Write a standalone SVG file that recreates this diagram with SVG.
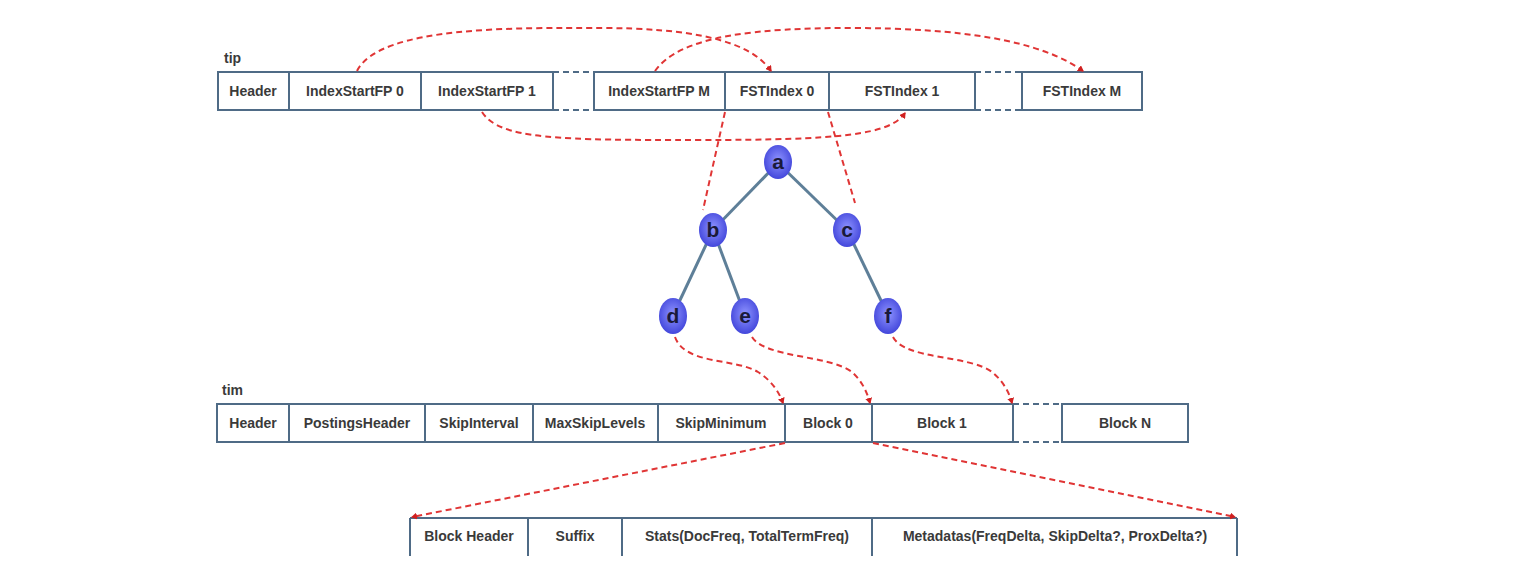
<svg xmlns="http://www.w3.org/2000/svg" width="1527" height="569" viewBox="0 0 1527 569">
<style>
.cell{fill:#fff;stroke:#4f6b86;stroke-width:2}
.ln{stroke:#4f6b86;stroke-width:2;fill:none}
.gap{stroke:#4f6b86;stroke-width:2;fill:none;stroke-dasharray:6,4}
.t{font-family:"Liberation Sans",Arial,sans-serif;font-size:14px;font-weight:bold;fill:#3a3a3a;text-anchor:middle}
.lbl{font-family:"Liberation Sans",Arial,sans-serif;font-size:14px;font-weight:bold;fill:#3a3a3a}
.c{stroke:#e03535;stroke-width:2;fill:none;stroke-dasharray:6,4}
.edge{stroke:#5e7f98;stroke-width:3}
.node{fill:url(#ng)}
.nt{font-family:"Liberation Sans",Arial,sans-serif;font-size:21px;font-weight:bold;fill:#1a1a3a;text-anchor:middle}
</style>
<defs>
<radialGradient id="ng" cx="50%" cy="45%" r="60%">
<stop offset="0" stop-color="#8f94ff"/>
<stop offset="1" stop-color="#3c40d8"/>
</radialGradient>
<marker id="ah" markerWidth="7" markerHeight="7" refX="5" refY="3.5" orient="auto" markerUnits="userSpaceOnUse">
<path d="M0,0 L6,3.5 L0,7 z" fill="#d02020"/>
</marker>
</defs>
<rect width="1527" height="569" fill="#fff"/>

<text class="lbl" x="224" y="63">tip</text>
<text class="lbl" x="222" y="395">tim</text>

<g id="tip-row">
<rect class="cell" x="218" y="72" width="71" height="38"/>
<rect class="cell" x="289" y="72" width="132" height="38"/>
<rect class="cell" x="421" y="72" width="132" height="38"/>
<line class="gap" x1="553" y1="72" x2="594" y2="72"/>
<line class="gap" x1="553" y1="110" x2="594" y2="110"/>
<rect class="cell" x="594" y="72" width="131" height="38"/>
<rect class="cell" x="725" y="72" width="104" height="38"/>
<rect class="cell" x="829" y="72" width="146" height="38"/>
<line class="gap" x1="975" y1="72" x2="1022" y2="72"/>
<line class="gap" x1="975" y1="110" x2="1022" y2="110"/>
<rect class="cell" x="1022" y="72" width="120" height="38"/>
<text class="t" x="253" y="96">Header</text>
<text class="t" x="355" y="96">IndexStartFP 0</text>
<text class="t" x="487" y="96">IndexStartFP 1</text>
<text class="t" x="659" y="96">IndexStartFP M</text>
<text class="t" x="777" y="96">FSTIndex 0</text>
<text class="t" x="902" y="96">FSTIndex 1</text>
<text class="t" x="1082" y="96">FSTIndex M</text>
</g>

<g id="tim-row">
<rect class="cell" x="217" y="404" width="72" height="38"/>
<rect class="cell" x="289" y="404" width="136" height="38"/>
<rect class="cell" x="425" y="404" width="108" height="38"/>
<rect class="cell" x="533" y="404" width="125" height="38"/>
<rect class="cell" x="658" y="404" width="127" height="38"/>
<rect class="cell" x="785" y="404" width="87" height="38"/>
<rect class="cell" x="872" y="404" width="141" height="38"/>
<line class="gap" x1="1013" y1="404" x2="1062" y2="404"/>
<line class="gap" x1="1013" y1="442" x2="1062" y2="442"/>
<rect class="cell" x="1062" y="404" width="126" height="38"/>
<text class="t" x="253" y="428">Header</text>
<text class="t" x="357" y="428">PostingsHeader</text>
<text class="t" x="479" y="428">SkipInterval</text>
<text class="t" x="595" y="428">MaxSkipLevels</text>
<text class="t" x="721" y="428">SkipMinimum</text>
<text class="t" x="828" y="428">Block 0</text>
<text class="t" x="942" y="428">Block 1</text>
<text class="t" x="1125" y="428">Block N</text>
</g>

<g id="block-row">
<line class="ln" x1="410" y1="518" x2="1237" y2="518"/>
<line class="ln" x1="410" y1="518" x2="410" y2="556"/>
<line class="ln" x1="528" y1="518" x2="528" y2="556"/>
<line class="ln" x1="622" y1="518" x2="622" y2="556"/>
<line class="ln" x1="872" y1="518" x2="872" y2="556"/>
<line class="ln" x1="1237" y1="518" x2="1237" y2="556"/>
<text class="t" x="469" y="541">Block Header</text>
<text class="t" x="575" y="541">Suffix</text>
<text class="t" x="747" y="541">Stats(DocFreq, TotalTermFreq)</text>
<text class="t" x="1055" y="541">Metadatas(FreqDelta, SkipDelta?, ProxDelta?)</text>
</g>

<g id="tree-edges">
<line class="edge" x1="778" y1="163" x2="713" y2="230"/>
<line class="edge" x1="778" y1="163" x2="847" y2="230"/>
<line class="edge" x1="713" y1="230" x2="673" y2="315"/>
<line class="edge" x1="713" y1="230" x2="745" y2="315"/>
<line class="edge" x1="847" y1="230" x2="888" y2="315"/>
</g>

<g id="connectors">
<path class="c" d="M357,71 C380,25 520,28 600,28 C690,28 750,40 771,71" marker-end="url(#ah)"/>
<path class="c" d="M655,71 C680,35 760,28 850,28 C960,28 1040,40 1083,71" marker-end="url(#ah)"/>
<path class="c" d="M482,112 C500,140 560,140 700,140 C840,140 890,135 905,113" marker-end="url(#ah)"/>
<path class="c" d="M725,112 L703,210"/>
<path class="c" d="M828,112 L855,203"/>
<path class="c" d="M675,337 C685,365 735,358 758,372 C772,381 779,392 783,403" marker-end="url(#ah)"/>
<path class="c" d="M752,337 C765,358 830,355 852,372 C862,381 867,392 870,403" marker-end="url(#ah)"/>
<path class="c" d="M893,337 C905,360 970,355 992,372 C1003,381 1009,392 1012,403" marker-end="url(#ah)"/>
<path class="c" d="M785,443 L412,517" marker-end="url(#ah)"/>
<path class="c" d="M873,443 L1235,517" marker-end="url(#ah)"/>
</g>

<g id="node-a"><ellipse class="node" cx="778" cy="162" rx="14" ry="17"/><text class="nt" x="778" y="169">a</text></g>
<g id="node-b"><ellipse class="node" cx="713" cy="230" rx="14" ry="17"/><text class="nt" x="713" y="237">b</text></g>
<g id="node-c"><ellipse class="node" cx="847" cy="230" rx="14" ry="17"/><text class="nt" x="847" y="237">c</text></g>
<g id="node-d"><ellipse class="node" cx="673" cy="316" rx="14" ry="18"/><text class="nt" x="673" y="323">d</text></g>
<g id="node-e"><ellipse class="node" cx="745" cy="316" rx="14" ry="18"/><text class="nt" x="745" y="323">e</text></g>
<g id="node-f"><ellipse class="node" cx="888" cy="316" rx="14" ry="18"/><text class="nt" x="888" y="323">f</text></g>
</svg>
